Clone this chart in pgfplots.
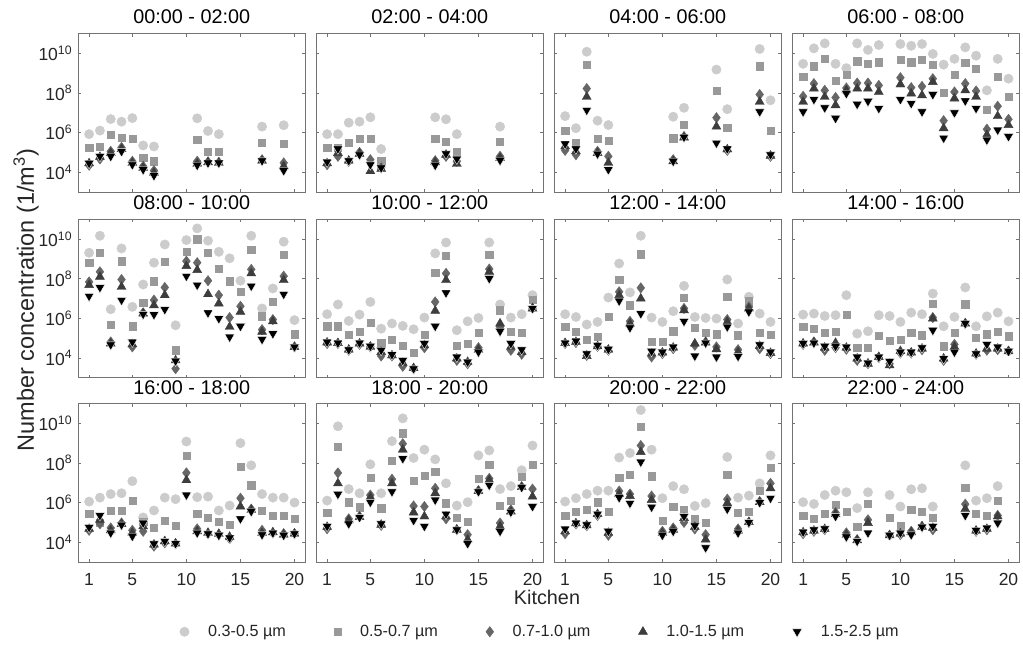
\documentclass[border=0pt]{standalone}
\usepackage{fontspec}
\setmainfont{Liberation Sans}
\usepackage{pgfplots}
\pgfplotsset{compat=1.18}
\usepackage{pgfplotstable}

\definecolor{c1}{gray}{0.80}
\definecolor{c2}{gray}{0.60}
\definecolor{c3}{gray}{0.40}
\definecolor{c4}{gray}{0.24}
\definecolor{c5}{gray}{0.0}
\definecolor{axc}{gray}{0.45}
\definecolor{txt}{gray}{0.15}

% values are log10 of number concentration (1/m^3)
\pgfplotstableread{
k a b c d e
1 5.92 5.25 4.35 4.45 4.45
2 6.10 5.28 4.67 4.77 4.80
3 6.68 5.88 5.05 4.97 4.80
4 6.55 5.75 5.25 5.17 5.05
5 6.73 5.67 4.55 4.47 4.38
6 5.35 4.72 4.30 4.22 4.13
7 5.30 4.55 4.08 3.97 3.83
11 6.72 5.63 4.55 4.43 4.35
12 6.08 5.05 4.52 4.50 4.47
13 5.92 5.02 4.50 4.47 4.47
17 6.30 5.50 4.63 4.58 4.58
19 6.37 5.43 4.47 4.30 4.08
}\tA
\pgfplotstableread{
k a b c d e
1 5.92 5.25 4.38 4.45 4.52
2 5.92 5.25 4.80 4.97 5.18
3 6.50 5.50 4.55 4.58 4.58
4 6.55 5.67 5.00 4.93 4.88
5 6.77 5.68 4.63 4.05 4.38
6 5.17 4.55 4.22 4.17 4.22
11 6.77 5.68 4.58 4.50 4.35
12 6.67 5.55 4.80 4.88 4.93
13 5.92 5.05 4.55 4.42 4.67
17 6.30 5.52 4.80 4.72 4.60
}\tB
\pgfplotstableread{
k a b c d e
1 6.83 6.08 5.10 5.30 5.43
2 6.22 5.50 4.88 5.05 5.18
3 10.08 9.43 8.22 7.80 7.13
4 6.60 5.67 5.05 4.97 4.92
5 6.38 5.60 4.80 4.47 4.13
11 6.80 5.72 4.63 4.55 4.55
12 7.25 6.38 5.80 5.75 5.77
15 9.18 8.13 6.75 6.30 5.47
16 7.18 6.25 5.10 5.15 5.18
19 10.22 9.35 7.92 7.55 7.05
20 7.63 6.10 4.80 4.83 4.88
}\tC
\pgfplotstableread{
k a b c d e
1 9.47 8.83 7.83 7.55 7.05
2 10.25 9.35 8.47 8.22 7.67
3 10.50 9.72 8.13 7.80 7.25
4 9.47 8.60 7.77 7.38 6.72
5 9.25 8.93 8.25 8.13 7.97
6 10.50 9.60 8.50 8.22 7.43
7 10.17 9.47 8.50 8.22 7.58
8 10.42 9.55 8.38 8.05 7.22
10 10.47 9.68 8.77 8.43 7.67
11 10.38 9.55 8.27 7.97 7.47
12 10.47 9.68 8.33 7.88 7.05
13 9.97 9.42 8.72 8.55 7.92
14 9.43 8.00 6.60 6.22 5.72
15 9.72 8.92 8.05 7.72 7.00
16 10.30 9.52 8.47 8.13 7.60
17 9.88 9.22 8.10 7.80 7.22
18 8.13 7.17 6.17 5.88 5.63
19 9.72 8.83 7.33 6.83 6.13
20 8.72 7.80 6.67 6.38 5.80
}\tD
\pgfplotstableread{
k a b c d e
1 9.31 8.81 7.84 7.68 7.12
2 10.17 9.33 8.35 8.10 7.56
3 6.46 5.69 4.81 4.73 4.67
4 9.53 8.89 7.96 7.59 6.92
5 6.58 5.60 4.56 4.69 4.81
6 7.71 6.80 6.28 6.24 6.21
7 8.81 7.88 6.92 6.66 6.19
8 9.73 8.86 7.56 7.17 6.45
9 5.65 4.39 3.46 3.88 3.85
10 9.95 9.36 8.89 8.64 8.13
11 10.54 10.00 8.81 8.44 7.68
12 9.92 9.31 7.90 7.22 6.28
13 9.36 8.49 7.17 6.75 5.99
14 9.03 7.88 6.04 5.57 5.06
15 7.90 7.34 6.61 6.33 5.60
16 10.17 9.45 8.47 8.27 7.63
17 6.50 6.11 5.43 5.32 4.94
18 7.51 6.83 5.94 5.85 5.23
19 9.87 9.23 8.13 7.93 7.22
20 5.91 5.20 4.56 4.55 4.56
}\tE
\pgfplotstableread{
k a b c d e
1 6.21 5.60 4.73 4.78 4.81
2 6.70 5.60 4.73 4.75 4.76
3 5.87 5.18 4.39 4.42 4.42
4 6.19 5.32 4.69 4.73 4.76
5 6.83 5.77 4.56 4.56 4.59
6 5.48 4.76 4.10 4.30 4.39
7 5.74 4.94 4.10 4.13 4.17
8 5.62 4.61 3.58 3.75 3.88
9 5.45 4.25 3.46 3.49 3.46
10 6.04 5.18 4.52 4.64 4.73
11 9.28 8.32 6.83 6.38 5.60
12 9.83 9.16 8.27 7.93 7.29
13 5.40 4.61 3.88 3.97 4.05
14 5.85 4.73 3.71 3.80 3.80
15 6.02 5.26 4.52 4.42 4.30
16 9.83 9.23 8.49 8.35 8.01
17 6.70 6.41 5.57 5.74 5.35
18 6.04 5.32 4.39 4.56 4.73
19 6.21 5.26 4.19 4.30 4.42
20 7.17 6.95 6.50 6.50 6.50
}\tF
\pgfplotstableread{
k a b c d e
1 6.21 5.57 4.73 4.75 4.76
2 6.07 5.32 4.78 4.81 4.86
3 5.69 4.94 4.13 4.10 4.22
4 5.82 5.06 4.59 4.59 4.64
5 7.05 6.07 4.39 4.42 4.44
6 8.77 7.96 7.34 7.17 6.88
7 7.31 6.66 5.85 5.74 5.53
8 10.17 9.24 7.54 7.00 6.24
9 6.04 4.84 4.05 4.22 4.34
10 5.82 4.84 4.22 4.27 4.30
11 6.36 5.35 4.47 4.52 4.56
12 7.64 7.05 6.50 6.41 5.85
13 6.07 5.53 4.64 4.73 4.10
14 6.02 5.26 4.81 4.78 4.76
15 5.99 5.20 4.56 4.44 4.05
16 7.96 7.09 5.94 5.82 5.57
17 5.74 5.15 4.42 4.30 4.08
18 7.09 6.87 6.58 6.50 6.33
19 6.24 5.26 4.47 4.61 4.67
20 5.82 5.18 4.22 4.25 4.30
}\tG
\pgfplotstableread{
k a b c d e
1 6.19 5.57 4.69 4.73 4.73
2 6.24 5.48 4.81 4.78 4.76
3 6.12 5.28 4.39 4.52 4.59
4 6.16 5.32 4.52 4.76 4.59
5 7.17 6.19 4.44 4.52 4.56
6 5.23 4.52 3.88 3.97 4.05
7 5.35 4.52 3.71 3.71 3.75
8 6.16 5.11 4.02 4.05 4.05
9 6.12 4.86 3.71 3.63 3.83
10 5.82 4.93 4.25 4.35 4.30
11 6.29 5.26 4.25 4.27 4.30
12 6.21 5.15 4.42 4.47 4.52
13 7.25 6.75 6.04 5.99 5.40
14 5.60 4.59 3.88 3.97 3.97
15 6.07 5.28 4.69 4.56 4.30
16 7.56 6.71 5.74 5.74 5.74
17 5.60 5.01 4.19 4.22 4.22
18 6.10 5.20 4.39 4.47 4.69
19 6.29 5.32 4.42 4.47 4.56
20 5.85 5.10 4.34 4.34 4.34
}\tH
\pgfplotstableread{
k a b c d e
1 6.05 5.42 4.60 4.67 4.75
2 6.25 5.00 4.93 5.13 5.35
3 6.43 5.60 4.72 4.60 4.47
4 6.47 5.60 4.97 4.92 4.87
5 7.08 6.08 4.60 4.47 4.30
6 5.25 5.05 4.55 4.80 4.97
7 5.60 4.72 3.80 3.88 3.92
8 6.25 5.08 3.97 4.05 4.05
9 6.17 4.85 3.92 3.93 3.93
10 9.08 8.35 7.50 7.13 6.38
11 6.27 5.42 4.67 4.55 4.47
12 6.30 5.22 4.43 4.47 4.43
13 5.60 5.05 4.38 4.42 4.35
14 5.85 4.88 4.18 4.27 4.22
15 9.00 7.80 6.22 5.80 5.18
16 7.88 6.88 5.67 5.63 5.55
17 6.43 5.58 4.60 4.47 4.38
18 6.25 5.35 4.47 4.50 4.47
19 6.25 5.35 4.43 4.38 4.35
20 6.00 5.17 4.43 4.43 4.43
}\tI
\pgfplotstableread{
k a b c d e
1 6.10 5.47 4.68 4.77 4.80
2 9.85 8.83 7.50 6.97 6.42
3 6.68 6.02 5.18 5.10 4.93
4 6.47 5.77 5.30 5.27 5.25
5 7.93 7.25 6.38 6.27 6.02
6 6.47 5.72 4.85 4.88 4.93
7 9.10 8.13 7.18 6.97 6.55
8 10.25 9.50 8.97 8.67 8.22
9 8.25 7.10 5.83 5.50 5.10
10 8.67 7.35 5.80 5.30 4.80
11 8.18 7.55 6.72 6.47 6.13
12 6.97 5.97 5.18 5.30 5.42
13 5.85 5.22 4.63 4.63 4.63
14 6.02 5.05 4.38 4.13 3.93
15 8.38 7.22 6.60 6.58 6.55
16 8.63 7.93 7.22 7.13 6.88
17 6.68 5.85 4.97 4.80 4.55
18 6.83 6.08 5.63 5.55 5.52
19 7.63 7.30 6.80 6.78 6.77
20 8.88 7.93 6.68 6.30 5.80
}\tJ
\pgfplotstableread{
k a b c d e
1 6.05 5.35 4.43 4.55 4.67
2 6.22 5.55 4.92 4.95 4.97
3 6.43 5.63 4.83 4.85 4.88
4 6.60 6.02 5.35 5.42 5.42
5 6.60 5.55 4.35 4.47 4.55
6 8.27 7.25 6.58 6.43 6.25
7 8.50 7.42 6.43 6.33 5.97
8 10.67 9.83 8.88 8.55 8.05
9 8.67 7.33 6.33 6.13 5.77
10 6.22 5.10 4.55 4.47 4.35
11 6.83 5.80 4.72 4.63 4.55
12 6.67 5.63 5.00 5.22 5.30
13 5.83 5.18 4.67 4.77 4.83
14 5.97 4.97 4.38 4.13 3.72
16 8.30 7.42 6.17 5.97 5.67
17 6.25 5.47 4.67 4.58 4.47
18 6.35 5.55 5.00 5.02 5.00
19 6.97 6.58 6.05 6.02 6.00
20 8.38 7.75 6.97 6.72 6.22
}\tK
\pgfplotstableread{
k a b c d e
1 6.02 5.35 4.43 4.50 4.52
2 5.93 5.17 4.55 4.58 4.63
3 6.38 5.43 4.63 4.66 4.68
4 6.60 5.88 5.50 5.42 5.30
5 6.52 5.52 4.47 4.38 4.27
6 5.72 4.80 4.13 4.10 4.05
7 6.52 5.93 5.13 4.97 4.47
9 6.38 5.25 4.35 4.35 4.35
10 5.80 4.85 4.38 4.43 4.47
11 6.67 5.63 4.55 4.50 4.38
12 6.72 5.55 4.80 4.78 4.77
13 5.80 5.22 4.63 4.72 4.80
16 7.88 6.75 5.92 5.67 5.35
17 6.10 5.42 4.55 4.58 4.60
18 6.22 5.35 4.63 4.67 4.72
19 6.83 6.08 5.35 5.30 4.97
}\tL

\pgfplotsset{
  panel/.style={
    scale only axis, width=227pt, height=158.5pt, anchor=north west,
    xmin=0, xmax=21, ymin=3, ymax=11,
    xtick={1,5,10,15,20}, ytick={4,6,8,10},
    xticklabels={}, yticklabels={},
    tick align=inside, major tick length=3pt,
    axis line style={draw=axc, line width=0.8pt},
    tick style={draw=axc, line width=0.6pt},
    title style={at={(0.5,1)}, anchor=base, yshift=3.5pt, inner sep=0pt,
      font=\fontsize{19.8}{22}\selectfont, text=black},
    tick label style={font=\fontsize{17.5}{20}\selectfont, text=txt, inner sep=0pt},
    yticklabel style={anchor=east, xshift=-6pt},
    xticklabel style={yshift=-11.5pt},
  },
  leftcol/.style={yticklabels={10\textsuperscript{4},10\textsuperscript{6},10\textsuperscript{8},10\textsuperscript{10}}},
  botrow/.style={xticklabels={1,5,10,15,20}},
  s1/.style={only marks, mark=*, mark size=4.7pt, color=c1, mark options={draw=none}},
  s2/.style={only marks, mark=square*, mark size=3.6pt, color=c2, mark options={draw=none}},
  s3/.style={only marks, mark=diamond*, mark size=5.2pt, color=c3, mark options={draw=none}},
  s4/.style={only marks, mark=triangle*, mark size=5.2pt, color=c4, mark options={draw=none}},
  s5/.style={only marks, mark=triangle*, mark size=5.6pt, color=c5, mark options={rotate=180, draw=white, line width=0.35pt}},
}

\newcommand{\panel}[5]{%
\begin{axis}[panel, at={(#3pt,#4pt)}, title={#2}, #5]
\addplot[s1] table[x=k,y=a]{#1};
\addplot[s2] table[x=k,y=b]{#1};
\addplot[s3] table[x=k,y=c]{#1};
\addplot[s4] table[x=k,y=d]{#1};
\addplot[s5] table[x=k,y=e]{#1};
\end{axis}}

\begin{document}
\begin{tikzpicture}
\useasboundingbox (0pt,0pt) rectangle (1023pt,-645pt);
\panel{\tA}{00:00 - 02:00}{78.3}{-33.5}{leftcol}
\panel{\tB}{02:00 - 04:00}{316.3}{-33.5}{}
\panel{\tC}{04:00 - 06:00}{554.3}{-33.5}{}
\panel{\tD}{06:00 - 08:00}{792.3}{-33.5}{}
\panel{\tE}{08:00 - 10:00}{78.3}{-219.3}{leftcol}
\panel{\tF}{10:00 - 12:00}{316.3}{-219.3}{}
\panel{\tG}{12:00 - 14:00}{554.3}{-219.3}{}
\panel{\tH}{14:00 - 16:00}{792.3}{-219.3}{}
\panel{\tI}{16:00 - 18:00}{78.3}{-403.5}{leftcol, botrow,
  legend entries={0.3-0.5 µm,0.5-0.7 µm,0.7-1.0 µm,1.0-1.5 µm,1.5-2.5 µm},
  legend columns=5,
  legend style={at={(2.035,-0.44)}, anchor=center, draw=none, fill=none,
    font=\fontsize{16.2}{18}\selectfont, text=txt,
    /tikz/every odd column/.append style={column sep=17pt},
    /tikz/every even column/.append style={column sep=46pt}}}
\panel{\tJ}{18:00 - 20:00}{316.3}{-403.5}{botrow}
\panel{\tK}{20:00 - 22:00}{554.3}{-403.5}{botrow}
\panel{\tL}{22:00 - 24:00}{792.3}{-403.5}{botrow}
\node[rotate=90, font=\fontsize{23.5}{26}\selectfont, text=txt] at (26pt,-300pt) {Number concentration (1/m\textsuperscript{3})};
\node[anchor=base, font=\fontsize{19.8}{22}\selectfont, text=txt] at (547pt,-604pt) {Kitchen};
\end{tikzpicture}
\end{document}
